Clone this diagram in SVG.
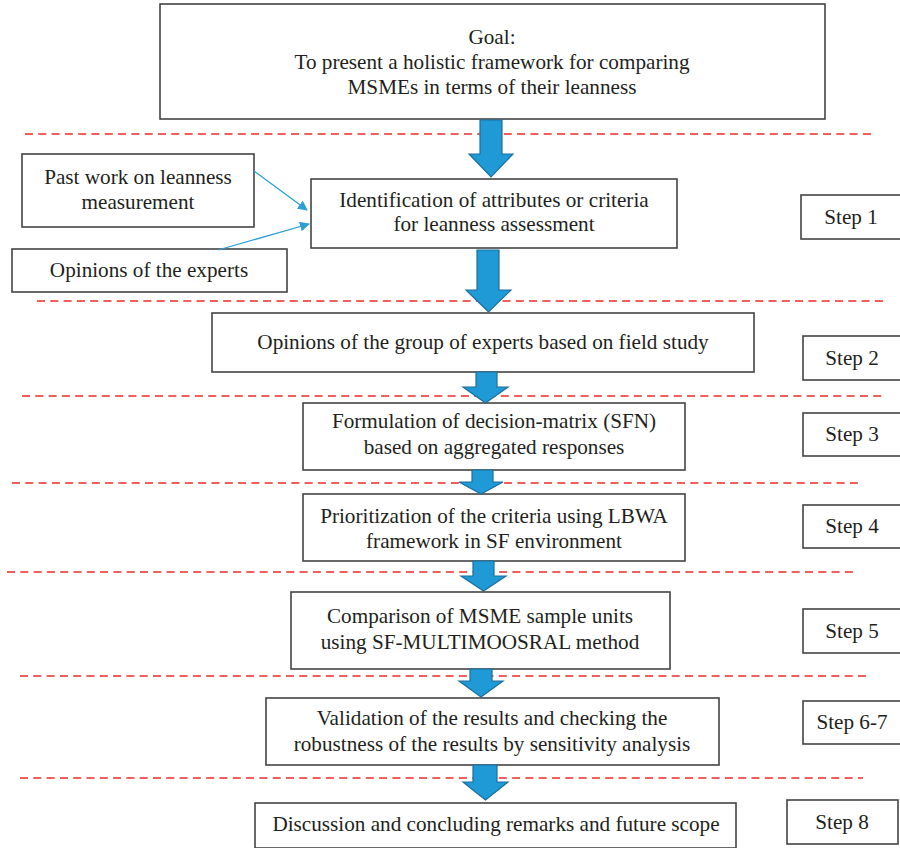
<svg xmlns="http://www.w3.org/2000/svg" width="900" height="848" viewBox="0 0 900 848">
<defs>
<style>
.box{fill:#fff;stroke:#444;stroke-width:1.6}
.t{font-family:"Liberation Serif","Times New Roman",serif;font-size:21.2px;fill:#231f20;text-anchor:middle}
.dash{stroke:#ec2a2a;stroke-width:1.5;stroke-dasharray:8 5.3;fill:none}
.big{fill:#1f9ad6;stroke:#1b6f9c;stroke-width:1.2;stroke-linejoin:miter}
.thin{stroke:#2a9fd8;stroke-width:1.3;fill:none}
</style>
<marker id="ah" viewBox="0 0 10 10" refX="9" refY="5" markerWidth="10" markerHeight="10" markerUnits="userSpaceOnUse" orient="auto">
<path d="M0,0 L10,5 L0,10 z" fill="#2a9fd8"/>
</marker>
</defs>
<rect width="900" height="848" fill="#fff"/>

<g id="dividers">
<line class="dash" x1="25" y1="134" x2="873" y2="134"/>
<line class="dash" x1="37" y1="301" x2="883" y2="301"/>
<line class="dash" x1="22" y1="396" x2="885" y2="396"/>
<line class="dash" x1="12" y1="483" x2="862" y2="483"/>
<line class="dash" x1="7" y1="572" x2="856" y2="572"/>
<line class="dash" x1="20" y1="676" x2="866" y2="676"/>
<line class="dash" x1="20" y1="778" x2="863" y2="778"/>
</g>

<g id="goal">
<rect class="box" x="160" y="4" width="665" height="115"/>
<text class="t" x="492" y="44">Goal:</text>
<text class="t" x="492" y="69">To present a holistic framework for comparing</text>
<text class="t" x="492" y="94">MSMEs in terms of their leanness</text>
</g>

<g id="past-work">
<rect class="box" x="22" y="154" width="232" height="73"/>
<text class="t" x="138" y="184">Past work on leanness</text>
<text class="t" x="138" y="209">measurement</text>
</g>

<g id="opinions-experts">
<rect class="box" x="12" y="249" width="275" height="43"/>
<text class="t" x="149" y="277">Opinions of the experts</text>
</g>

<g id="identification">
<rect class="box" x="311" y="179" width="366" height="69"/>
<text class="t" x="494" y="207">Identification of attributes or criteria</text>
<text class="t" x="494" y="231">for leanness assessment</text>
</g>

<g id="step1">
<rect class="box" x="801" y="195" width="100" height="44"/>
<text class="t" x="851" y="224">Step 1</text>
</g>

<g id="opinions-group">
<rect class="box" x="212" y="313" width="542" height="59"/>
<text class="t" x="483" y="349">Opinions of the group of experts based on field study</text>
</g>

<g id="step2">
<rect class="box" x="803" y="336" width="98" height="44"/>
<text class="t" x="852" y="365">Step 2</text>
</g>

<g id="formulation">
<rect class="box" x="303" y="403" width="382" height="67"/>
<text class="t" x="494" y="428">Formulation of decision-matrix (SFN)</text>
<text class="t" x="494" y="454">based on aggregated responses</text>
</g>

<g id="step3">
<rect class="box" x="803" y="413" width="98" height="43"/>
<text class="t" x="852" y="441">Step 3</text>
</g>

<g id="prioritization">
<rect class="box" x="303" y="494" width="382" height="67"/>
<text class="t" x="494" y="523">Prioritization of the criteria using LBWA</text>
<text class="t" x="494" y="548">framework in SF environment</text>
</g>

<g id="step4">
<rect class="box" x="803" y="505" width="98" height="43"/>
<text class="t" x="852" y="533">Step 4</text>
</g>

<g id="comparison">
<rect class="box" x="291" y="592" width="379" height="77"/>
<text class="t" x="480" y="623">Comparison of MSME sample units</text>
<text class="t" x="480" y="649">using SF-MULTIMOOSRAL method</text>
</g>

<g id="step5">
<rect class="box" x="803" y="609" width="98" height="44"/>
<text class="t" x="852" y="638">Step 5</text>
</g>

<g id="validation">
<rect class="box" x="266" y="698" width="453" height="67"/>
<text class="t" x="492" y="725">Validation of the results and checking the</text>
<text class="t" x="492" y="751">robustness of the results by sensitivity analysis</text>
</g>

<g id="step6-7">
<rect class="box" x="803" y="701" width="98" height="43"/>
<text class="t" x="852" y="729">Step 6-7</text>
</g>

<g id="discussion">
<rect class="box" x="255" y="803" width="481" height="45"/>
<text class="t" x="496" y="831">Discussion and concluding remarks and future scope</text>
</g>

<g id="step8">
<rect class="box" x="787" y="800" width="111" height="44"/>
<text class="t" x="842" y="829">Step 8</text>
</g>

<g id="connectors">
<line class="thin" x1="254" y1="171" x2="307" y2="210" marker-end="url(#ah)"/>
<line class="thin" x1="218" y1="250" x2="309" y2="224" marker-end="url(#ah)"/>
<path class="big" d="M480,120 H502 V154 H513 L491,177 L469,154 H480 Z"/>
<path class="big" d="M477,250 H499 V290 H511 L488.5,312 L466,290 H477 Z"/>
<path class="big" d="M476,372 H497 V387 H508 L485.5,403 L463,387 H476 Z"/>
<path class="big" d="M472,470 H493 V482 H503 L481,494 L459,482 H472 Z"/>
<path class="big" d="M473,561 H494 V576 H506 L483.5,591 L461,576 H473 Z"/>
<path class="big" d="M470,669 H492 V681 H503 L481,697 L459,681 H470 Z"/>
<path class="big" d="M473,765 H497 V782 H508 L485.5,800 L463,782 H473 Z"/>
</g>
</svg>
